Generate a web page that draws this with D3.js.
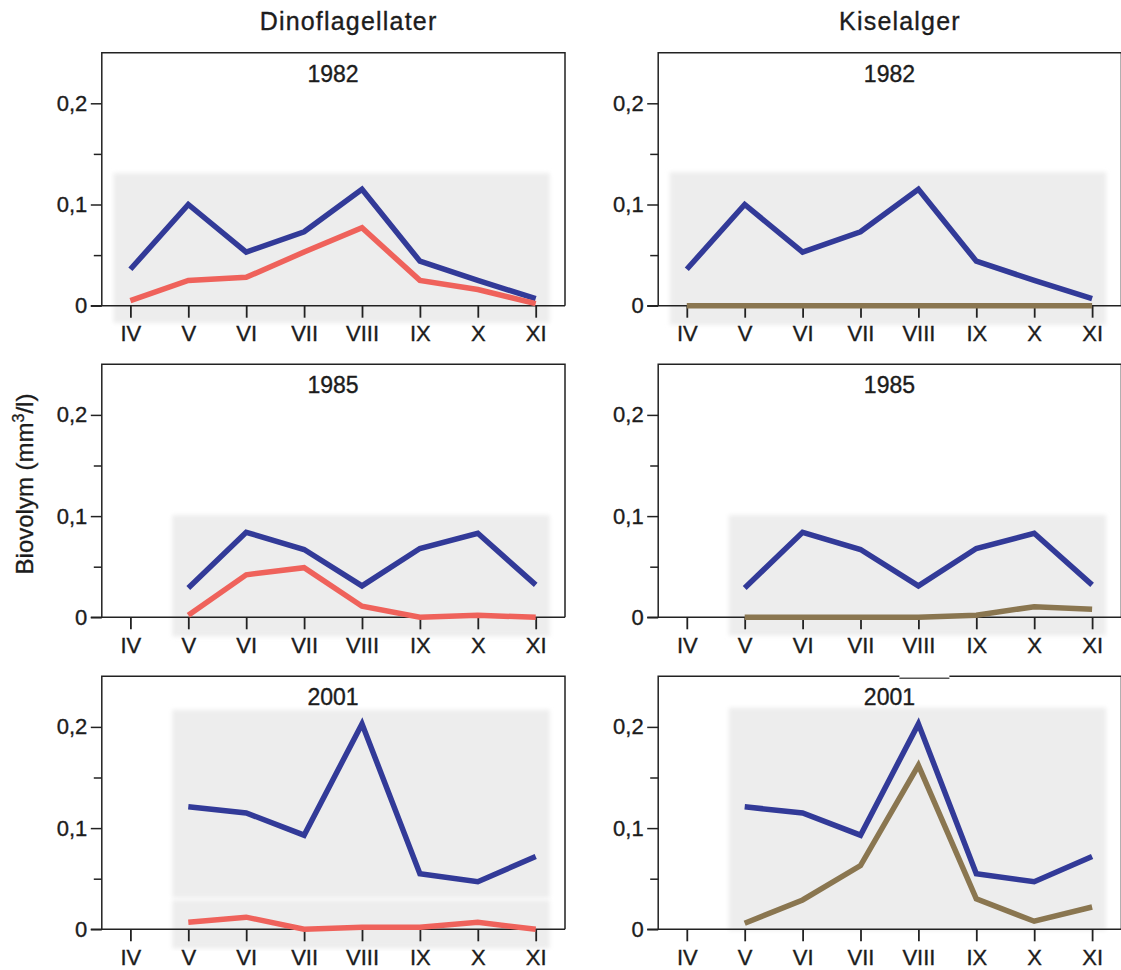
<!DOCTYPE html>
<html>
<head>
<meta charset="utf-8">
<script src="https://cdn.jsdelivr.net/npm/d3@7"></script>
<style>
	body { margin: 0; background: #fff; }
	text { font-family: "Liberation Sans", Arial, sans-serif; fill: #1c1c1c; stroke: #1c1c1c; stroke-width: 0.35px; }
</style>
</head>
<body>
<script>
const months = ["IV", "V", "VI", "VII", "VIII", "IX", "X", "XI"];
const years = ["1982", "1985", "2001"];
const columnTitles = ["Dinoflagellater", "Kiselalger"];
const yMajorTicks = [0, 0.1, 0.2];
const yMinorTicks = [0.05, 0.15];

// total biovolume (blue), same in both columns
const total1982 = [0.036, 0.100, 0.053, 0.073, 0.115, 0.044, 0.025, 0.007];
const total1985 = [null, 0.029, 0.084, 0.067, 0.031, 0.068, 0.083, 0.032];
const total2001 = [null, 0.121, 0.115, 0.093, 0.203, 0.055, 0.047, 0.072];

// dinoflagellates (red)
const dino1982 = [0.005, 0.025, 0.028, 0.053, 0.077, 0.025, 0.016, 0.002];
const dino1985 = [null, 0.002, 0.042, 0.049, 0.011, 0.000, 0.002, 0.000];
const dino2001 = [null, 0.007, 0.012, 0.000, 0.002, 0.002, 0.007, 0.000];

// diatoms (brown)
const kisel1982 = [0, 0, 0, 0, 0, 0, 0, 0];
const kisel1985 = [null, 0.000, 0.000, 0.000, 0.000, 0.002, 0.0105, 0.008];
const kisel2001 = [null, 0.006, 0.029, 0.063, 0.162, 0.030, 0.008, 0.022];

const totals = [total1982, total1985, total2001];
const groups = [[dino1982, dino1985, dino2001], [kisel1982, kisel1985, kisel2001]];
const groupColors = ["#ef625b", "#8a7650"];
const totalColor = "#323a98";

const width = 1121, height = 970;
const colOffset = [0, 556.4];
const rowZero = [305.7, 617.3, 929.3];
const plotH = 253;
const titleDx = [15.5, 10.5];

// scanned grey backing boxes [valueTop, valueBottom]
const backs = [
	[[[0.131, -0.017]], [[0.132, -0.019]]],
	[[[0.101, -0.019]], [[0.101, -0.018]]],
	[[[0.217, 0.031], [0.029, -0.019]], [[0.219, -0.001]]]
];

const svg = d3.select("body").append("svg")
	.attr("width", width)
	.attr("height", height);

const defs = svg.append("defs");
defs.append("filter").attr("id", "soft")
	.attr("x", "-5%").attr("y", "-5%").attr("width", "110%").attr("height", "110%")
	.append("feGaussianBlur").attr("stdDeviation", 2);

function drawPanel(col, row) {
	const ox = colOffset[col];
	const zy = rowZero[row];
	const x = d3.scalePoint().domain(months).range([130.4 + ox, 535.7 + ox]);
	const y = d3.scaleLinear().domain([0, 0.25]).range([zy, zy - plotH]);
	const left = 101.8 + ox, right = 565 + ox, top = zy - plotH;
	const g = svg.append("g");

	// grey scan boxes behind the curves
	const firstX = row == 0 ? x("IV") : x("V");
	const pad = row == 0 ? 17 : 16;
	backs[row][col].forEach((b) => {
		g.append("rect")
			.attr("x", firstX - pad)
			.attr("y", y(b[0]))
			.attr("width", x("XI") + 14 - firstX + pad)
			.attr("height", y(b[1]) - y(b[0]))
			.attr("fill", "#ededed")
			.attr("filter", "url(#soft)");
	});

	// frame
	g.append("path")
		.attr("d", `M${left},${zy}V${top}H${right}V${zy}`)
		.attr("fill", "none")
		.attr("stroke", "#222")
		.attr("stroke-width", 1.5);
	g.append("line")
		.attr("x1", left - 11).attr("x2", right)
		.attr("y1", zy).attr("y2", zy)
		.attr("stroke", "#222")
		.attr("stroke-width", 1.5);

	// y axis
	const yAxis = g.append("g")
		.attr("transform", `translate(${left},0)`)
		.call(d3.axisLeft(y).tickValues(yMajorTicks).tickSize(11).tickPadding(3.5)
			.tickFormat((d) => d === 0 ? "0" : d3.format(".1f")(d).replace(".", ",")));
	yAxis.select(".domain").remove();
	yAxis.selectAll("line").attr("stroke", "#222").attr("stroke-width", 1.5);
	yAxis.selectAll("text").attr("font-size", 22).attr("fill", "#1c1c1c")
		.style("font-family", "'Liberation Sans', Arial, sans-serif");

	const yMinor = g.append("g")
		.attr("transform", `translate(${left},0)`)
		.call(d3.axisLeft(y).tickValues(yMinorTicks).tickSize(8).tickFormat(""));
	yMinor.select(".domain").remove();
	yMinor.selectAll("line").attr("stroke", "#222").attr("stroke-width", 1.5);

	// x axis
	const xAxis = g.append("g")
		.attr("transform", `translate(0,${zy})`)
		.call(d3.axisBottom(x).tickSize(12).tickPadding(8));
	xAxis.select(".domain").remove();
	xAxis.selectAll("line").attr("stroke", "#222").attr("stroke-width", 1.8);
	xAxis.selectAll("text").attr("font-size", 22).attr("fill", "#1c1c1c")
		.style("font-family", "'Liberation Sans', Arial, sans-serif");

	// year label
	g.append("text")
		.attr("x", (x("IV") + x("XI")) / 2)
		.attr("y", top + 29)
		.attr("text-anchor", "middle")
		.attr("font-size", 23)
		.text(years[row]);

	if (row == 2 && col == 1) {
		// torn bit of the scanned frame above the year
		g.append("rect").attr("x", x("VIII") - 19).attr("y", top - 3)
			.attr("width", 50).attr("height", 15).attr("fill", "#fff");
		g.append("line").attr("x1", x("VIII") - 19).attr("x2", x("VIII") + 31)
			.attr("y1", top + 2).attr("y2", top + 2)
			.attr("stroke", "#555").attr("stroke-width", 1.5);
	}

	const line = d3.line()
		.defined((d) => d != null)
		.x((d, i) => x(months[i]))
		.y((d) => y(d));

	g.append("path")
		.attr("d", line(totals[row]))
		.attr("fill", "none")
		.attr("stroke", totalColor)
		.attr("stroke-width", 5.5)
		.attr("stroke-linejoin", "miter");

	g.append("path")
		.attr("d", line(groups[col][row]))
		.attr("fill", "none")
		.attr("stroke", groupColors[col])
		.attr("stroke-width", 5.5)
		.attr("stroke-linejoin", "miter");
}

for (var row = 0; row < 3; row++) {
	for (var col = 0; col < 2; col++) {
		drawPanel(col, row);
	}
}

// column titles
columnTitles.forEach((t, col) => {
	svg.append("text")
		.attr("x", (130.4 + 535.7) / 2 + colOffset[col] + titleDx[col])
		.attr("y", 30)
		.attr("text-anchor", "middle")
		.attr("font-size", 25)
		.attr("letter-spacing", 1.2)
		.text(t);
});

// y axis label
const yl = svg.append("text")
	.attr("transform", "translate(33,484) rotate(-90)")
	.attr("text-anchor", "middle")
	.attr("font-size", 24);
yl.append("tspan").text("Biovolym (mm");
yl.append("tspan").attr("dy", -9).attr("font-size", 16).text("3");
yl.append("tspan").attr("dy", 9).text("/l)");
</script>
</body>
</html>
